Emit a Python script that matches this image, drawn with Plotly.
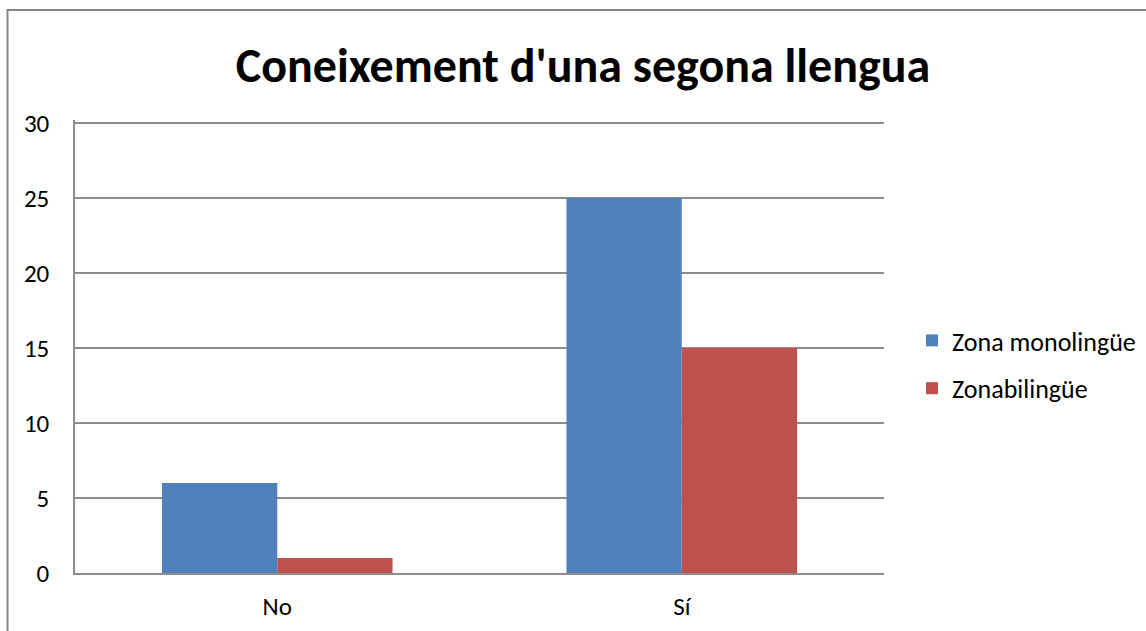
import plotly.graph_objects as go

categories = ["No", "Sí"]
mono = [6, 25]
bili = [1, 15]
series_names = ["Zona monolingüe", "Zonabilingüe"]
y_ticks = [0, 5, 10, 15, 20, 25, 30]

font_family = "Carlito, Calibri, 'Noto Sans', 'Open Sans', sans-serif"

fig = go.Figure()
fig.add_trace(go.Bar(x=categories, y=mono, name=series_names[0], marker_color="#4F81BD",
                     marker_line_width=0, legendgroup="a"))
fig.add_trace(go.Bar(x=categories, y=bili, name=series_names[1], marker_color="#C0504D",
                     marker_line_width=0, legendgroup="b"))

W, H = 1146, 631
L, R, T, B = 75, 262, 120, 58
pw, ph = W - L - R, H - T - B

fig.update_layout(
    width=W, height=H,
    margin=dict(l=L, r=R, t=T, b=B, autoexpand=False),
    paper_bgcolor="white", plot_bgcolor="white",
    barmode="group", bargap=0.43, bargroupgap=0,
    title=dict(text="<b>Coneixement d'una segona llengua</b>", x=583 / W, xanchor="center",
               y=1 - 65 / H, yanchor="middle", font=dict(size=48, color="black", family=font_family)),
    font=dict(family=font_family, size=25, color="black"),
    legend=dict(xref="container", yref="container", x=912 / W, y=1 - 317 / H,
                xanchor="left", yanchor="top", tracegroupgap=11,
                font=dict(size=26), itemwidth=30, bgcolor="rgba(0,0,0,0)"),
    showlegend=True,
)
fig.update_yaxes(range=[0, 30.2], tickvals=y_ticks, showgrid=True, gridcolor="#8C8C8C", gridwidth=1.5,
                 showline=True, linecolor="#8C8C8C", linewidth=1.5, ticks="", ticklabelstandoff=19,
                 tickfont=dict(size=25), zeroline=False, automargin=False)
fig.update_xaxes(showline=True, linecolor="#8C8C8C", linewidth=1.5, ticks="", ticklabelstandoff=10,
                 tickfont=dict(size=25), mirror=False, automargin=False)

fig.add_shape(type="rect", xref="paper", yref="paper",
              x0=(7.5 - L) / pw, x1=(1250 - L) / pw,
              y0=(H - B - 720) / ph, y1=(H - B - 10) / ph,
              line=dict(color="#868686", width=2), fillcolor="rgba(0,0,0,0)")

fig.write_html("out.html", config={"displayModeBar": False},
               post_script="document.body.style.margin='0';document.body.style.overflow='hidden';")
